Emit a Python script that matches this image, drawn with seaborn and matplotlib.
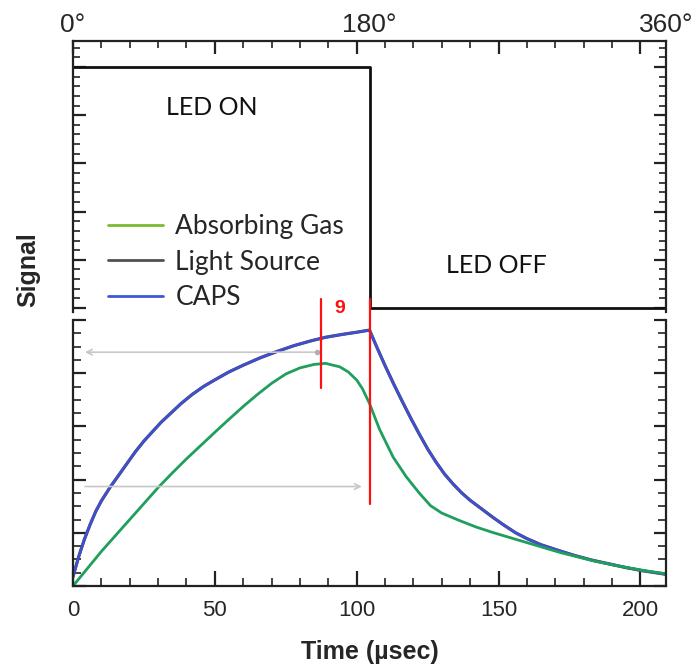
import numpy as np
import pandas as pd
import matplotlib
matplotlib.use("Agg")
import matplotlib.pyplot as plt
from matplotlib.lines import Line2D
from matplotlib.ticker import MultipleLocator
import seaborn as sns

# ---------------- data ----------------
period_us = 209.0
led_t = [0, 104.5, 104.5, 209]
led_level = [1, 1, 0, 0]

caps_t = [0, 2, 4, 6, 8, 10, 13, 16, 19, 22, 25, 28, 31, 34, 38, 42, 46, 50, 55,
          60, 66, 72, 78, 84, 89, 95, 100, 104.5,
          107, 110, 113, 116, 119, 122, 125, 128, 131, 134, 137, 140, 144, 148,
          152, 156, 160, 165, 171, 177, 183, 189, 195, 201, 209]
caps_v = [0.035, 0.11, 0.175, 0.23, 0.28, 0.32, 0.37, 0.415, 0.46, 0.505, 0.545,
          0.58, 0.615, 0.645, 0.685, 0.72, 0.75, 0.775, 0.805, 0.83, 0.858, 0.882,
          0.904, 0.922, 0.935, 0.946, 0.954, 0.962,
          0.9, 0.828, 0.76, 0.695, 0.632, 0.572, 0.515, 0.465, 0.42, 0.383, 0.35,
          0.322, 0.29, 0.258, 0.228, 0.2, 0.178, 0.155, 0.134, 0.114, 0.097,
          0.083, 0.069, 0.057, 0.044]

light_t = list(caps_t)
light_v = list(caps_v)

gas_t = [0, 5, 10, 15, 20, 25, 30, 35, 40, 45, 50, 55, 60, 65, 70, 75, 80, 85, 89,
         94, 97, 100, 102, 104.5, 108, 112.8, 117.5, 122, 126, 130, 136, 142, 148,
         154, 160, 166, 172, 178, 184, 190, 196, 202, 209]
gas_v = [0.0, 0.065, 0.13, 0.19, 0.25, 0.31, 0.37, 0.425, 0.478, 0.528, 0.578,
         0.627, 0.675, 0.72, 0.762, 0.797, 0.82, 0.833, 0.837, 0.824, 0.805, 0.774,
         0.742, 0.686, 0.59, 0.485, 0.41, 0.35, 0.302, 0.274, 0.247, 0.222, 0.201,
         0.182, 0.163, 0.144, 0.125, 0.109, 0.093, 0.08, 0.068, 0.057, 0.046]

series_names = ["Absorbing Gas", "Light Source", "CAPS"]
line_colors = {"Light Source": "#4a4a4a", "CAPS": "#3f4fd2", "Absorbing Gas": "#1f9f5c"}
legend_colors = ["#7bbb34", "#505050", "#3f58d8"]

phase_labels = ["0\u00b0", "180\u00b0", "360\u00b0"]
phase_deg = [0, 180, 360]

red_t = [87.5, 104.5]
red_top = [1.08, 1.08]
red_bottom = [0.745, 0.31]

arrow1 = dict(x0=3.2, x1=86.0, y=0.879)
arrow2 = dict(x0=3.2, x1=102.8, y=0.374)

# ---------------- style ----------------
sns.set_style("ticks")
plt.rcParams["font.family"] = ["Liberation Sans", "DejaVu Sans"]

fig = plt.figure(figsize=(6.96, 6.72), dpi=100)
W, H = 696.0, 672.0
L, R = 73 / W, 666 / W
ax_top = fig.add_axes([L, 1 - 312 / H, R - L, (312 - 41) / H])
ax_bot = fig.add_axes([L, 1 - 586 / H, R - L, (586 - 320) / H])

# top panel: LED square wave
sns.lineplot(x=led_t, y=led_level, ax=ax_top, color="#111111", lw=2,
             estimator=None, sort=False)
ax_top.set_xlim(0, period_us)
ax_top.set_ylim(-4 / 241, 267 / 241)

# bottom panel: signals
df = pd.concat([
    pd.DataFrame({"t": light_t, "v": light_v, "series": "Light Source"}),
    pd.DataFrame({"t": caps_t, "v": caps_v, "series": "CAPS"}),
    pd.DataFrame({"t": gas_t, "v": gas_v, "series": "Absorbing Gas"}),
], ignore_index=True)
for name, lw in [("Light Source", 2.3), ("CAPS", 1.9), ("Absorbing Gas", 2.0)]:
    sub = df[df["series"] == name]
    sns.lineplot(data=sub, x="t", y="v", ax=ax_bot, color=line_colors[name],
                 lw=lw, estimator=None, sort=False, legend=False)
ax_bot.set_xlim(0, period_us)
ax_bot.set_ylim(0, 1)
ax_bot.set_xlabel("")
ax_bot.set_ylabel("")
ax_top.set_xlabel("")
ax_top.set_ylabel("")

# spines & ticks
for ax in (ax_top, ax_bot):
    for s in ax.spines.values():
        s.set_linewidth(1.6)
        s.set_color("#222222")
ax_top.spines["bottom"].set_visible(False)
ax_bot.spines["top"].set_visible(False)

ax_top.xaxis.set_major_locator(MultipleLocator(50))
ax_top.xaxis.set_minor_locator(MultipleLocator(10))
ax_top.yaxis.set_major_locator(MultipleLocator(0.2))
ax_top.yaxis.set_minor_locator(MultipleLocator(0.04))
ax_top.tick_params(which="both", direction="in", top=True, bottom=False,
                   left=True, right=True, labelbottom=False, labelleft=False,
                   color="#222222")
ax_top.tick_params(which="major", length=9, width=1.6)
ax_top.tick_params(which="minor", length=5, width=1.2)

ax_bot.xaxis.set_major_locator(MultipleLocator(50))
ax_bot.xaxis.set_minor_locator(MultipleLocator(10))
ax_bot.yaxis.set_major_locator(MultipleLocator(0.2))
ax_bot.yaxis.set_minor_locator(MultipleLocator(0.05))
ax_bot.tick_params(which="both", direction="in", top=False, bottom=True,
                   left=True, right=True, labelleft=False, color="#222222")
ax_bot.tick_params(which="major", length=11, width=1.6, labelsize=16, pad=10)
ax_bot.tick_params(which="minor", length=6, width=1.2)
ax_bot.tick_params(axis="y", which="major", length=9)

sec = ax_top.secondary_xaxis("top", functions=(lambda t: t * 360 / period_us,
                                               lambda d: d * period_us / 360))
sec.set_xticks(phase_deg, labels=phase_labels)
sec.tick_params(length=0, labelsize=19, pad=3)
sec.spines["top"].set_visible(False)

# annotations
txt_font = ["Lato", "DejaVu Sans"]
ax_top.text(32.7, 0.83, "LED ON", fontsize=18, family=txt_font,
            va="center", ha="left", color="#111111")
ax_top.text(131.3, 0.175, "LED OFF", fontsize=18, family=txt_font,
            va="center", ha="left", color="#111111")

for t, y0, y1 in zip(red_t, red_bottom, red_top):
    ax_bot.plot([t, t], [y0, y1], color="#ff1010", lw=1.6, clip_on=False, zorder=5)
ax_bot.text(94, 1.045, "9", color="#ff1010", fontsize=14, fontweight="bold",
            ha="center", va="center", clip_on=False)

ax_bot.annotate("", xy=(arrow1["x0"], arrow1["y"]), xytext=(arrow1["x1"], arrow1["y"]),
                arrowprops=dict(arrowstyle="->", color="#c8c8c8", lw=1.2))
ax_bot.plot([arrow1["x1"]], [arrow1["y"]], marker="o", ms=3, color="#b0b0b0")
ax_bot.annotate("", xy=(arrow2["x1"], arrow2["y"]), xytext=(arrow2["x0"], arrow2["y"]),
                arrowprops=dict(arrowstyle="->", color="#c8c8c8", lw=1.2))

handles = [Line2D([0], [0], color=c, lw=2) for c in legend_colors]
fig.legend(handles, series_names, loc="upper left",
           bbox_to_anchor=(108 / W, 1 - 214 / H), frameon=False,
           prop={"family": txt_font, "size": 19},
           handlelength=2.1, handletextpad=0.45, labelspacing=0.4,
           borderpad=0, borderaxespad=0)

fig.text(28 / W, 1 - 270 / H, "Signal", rotation=90, fontsize=18,
         fontweight="bold", ha="center", va="center")
fig.text(370 / W, 1 - 652 / H, "Time (\u00b5sec)", fontsize=18,
         fontweight="bold", ha="center", va="center")

fig.savefig("out.png", dpi=100)
